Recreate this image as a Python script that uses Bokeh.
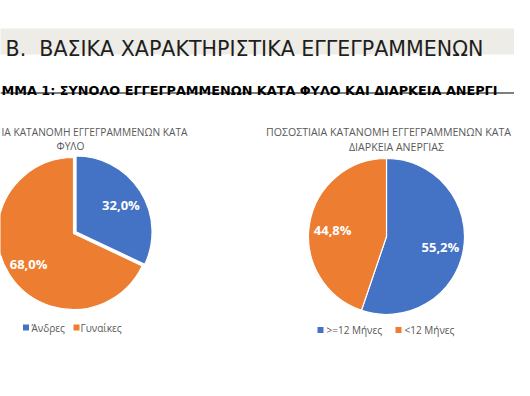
import math
from bokeh.plotting import figure
from bokeh.models import Range1d
from bokeh.core.properties import value
from bokeh.embed import file_html
from bokeh.resources import INLINE

# ---- data ----
header_text = "Β.\u00a0\u00a0ΒΑΣΙΚΑ ΧΑΡΑΚΤΗΡΙΣΤΙΚΑ ΕΓΓΕΓΡΑΜΜΕΝΩΝ"
subheading_text = "ΜΜΑ 1: ΣΥΝΟΛΟ ΕΓΓΕΓΡΑΜΜΕΝΩΝ ΚΑΤΑ ΦΥΛΟ ΚΑΙ ΔΙΑΡΚΕΙΑ ΑΝΕΡΓΙ"

sex_title = ["ΙΑ ΚΑΤΑΝΟΜΗ ΕΓΓΕΓΡΑΜΜΕΝΩΝ ΚΑΤΑ", "ΦΥΛΟ"]
sex_categories = ["Άνδρες", "Γυναίκες"]
sex_values = [32.0, 68.0]

dur_title = ["ΠΟΣΟΣΤΙΑΙΑ ΚΑΤΑΝΟΜΗ ΕΓΓΕΓΡΑΜΜΕΝΩΝ ΚΑΤΑ", "ΔΙΑΡΚΕΙΑ ΑΝΕΡΓΙΑΣ"]
dur_categories = [">=12 Μήνες", "<12 Μήνες"]
dur_values = [55.2, 44.8]

colors = ["#4472C4", "#ED7D31"]

W, H = 514, 380


def X(ix):
    return ix


def Y(iy):
    return H - iy


p = figure(width=W, height=H, output_backend="svg", toolbar_location=None,
           x_range=Range1d(0, W), y_range=Range1d(0, H), min_border=0,
           background_fill_color="white", border_fill_color="white")
p.axis.visible = False
p.grid.visible = False
p.outline_line_color = None

# header band
p.quad(left=[X(-20)], right=[X(560)], bottom=[Y(54)], top=[Y(28)],
       fill_color="#EDECE6", line_color=None)
p.text(x=[X(5)], y=[Y(48.5)], text=[header_text], text_font=value("DejaVu Sans"),
       text_font_size="20.6px", text_color="#1E1E1E", text_baseline="alphabetic",
       text_align="left")

# subheading (bold, underlined)
p.text(x=[X(1)], y=[Y(90)], text=[subheading_text], text_font=value("DejaVu Sans"),
       text_font_style="bold", text_font_size="12.8px", text_color="#000000",
       text_baseline="alphabetic", text_align="left")
p.segment(x0=[X(0)], y0=[Y(92.5)], x1=[X(530)], y1=[Y(92.5)], line_color="#000000",
          line_width=1.2)


def draw_pie(cx, cy, r, vals, cats, title, title_pos, title_size, explode_first,
             legend_pos):
    total = sum(vals)
    cum = 0.0
    for i, v in enumerate(vals):
        a0 = math.pi / 2 - 2 * math.pi * cum / total
        a1 = math.pi / 2 - 2 * math.pi * (cum + v) / total
        mid = (a0 + a1) / 2
        ex = explode_first if i == 0 else 0.0
        ccx = cx + ex * math.cos(mid)
        ccy = cy + ex * math.sin(mid)
        p.wedge(x=[ccx], y=[ccy], radius=r, start_angle=a0, end_angle=a1,
                direction="clock", fill_color=colors[i], line_color="white",
                line_width=1.2)
        lx = ccx + 0.7 * r * math.cos(mid)
        ly = ccy + 0.7 * r * math.sin(mid) - 2
        p.text(x=[lx], y=[ly], text=[f"{v:.1f}%".replace(".", ",")],
               text_font=value("Open Sans"), text_font_style="bold",
               text_font_size="13px", text_color="white",
               text_align="center", text_baseline="middle")
        cum += v
    # titles
    for (tx, ty, align), line in zip(title_pos, title):
        p.text(x=[tx], y=[ty], text=[line], text_font=value("Open Sans"),
               text_font_size=title_size, text_color="#595959",
               text_align=align, text_baseline="middle")
    # legend
    for (sx, tx, ly), cat, col in zip(legend_pos, cats, colors):
        p.rect(x=[sx], y=[ly], width=6, height=6, fill_color=col, line_color=None)
        p.text(x=[tx], y=[ly], text=[cat], text_font=value("Open Sans"),
               text_font_size="10px", text_color="#595959",
               text_align="left", text_baseline="middle")


draw_pie(X(73), Y(233), 76, sex_values, sex_categories, sex_title,
         [(X(1), Y(131.5), "left"), (X(70), Y(145.5), "center")], "10.2px", 3.0,
         [(X(25.5), X(31), Y(327)), (X(76), X(80), Y(327))])

draw_pie(X(386), Y(236), 78, dur_values, dur_categories, dur_title,
         [(X(388), Y(131.5), "center"), (X(396), Y(146.5), "center")], "10.6px", 0.0,
         [(X(320), X(326), Y(329.5)), (X(398), X(404), Y(329.5))])

open("out.html", "w").write(file_html(p, INLINE))
